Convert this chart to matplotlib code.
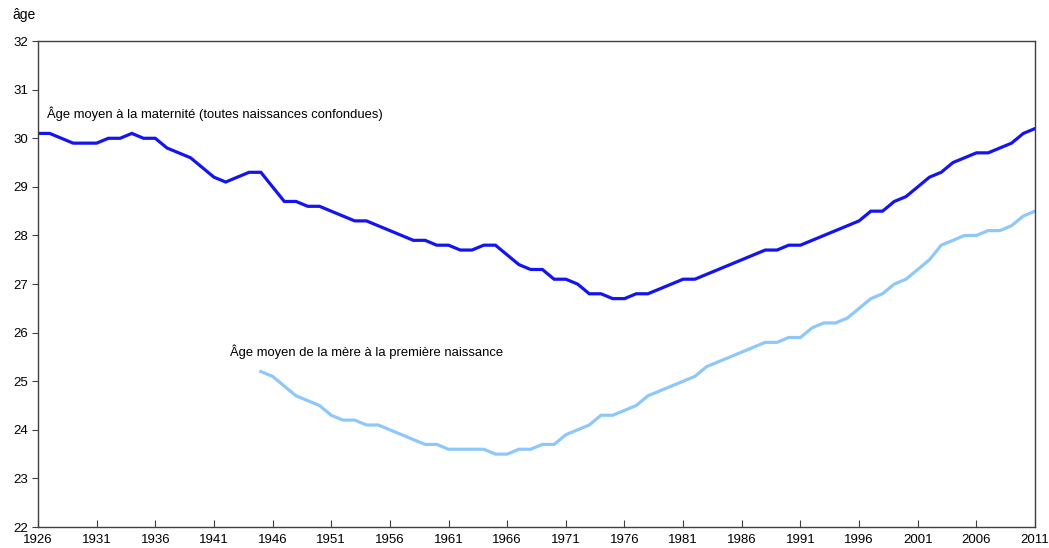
import matplotlib
matplotlib.use('Agg')
import matplotlib.pyplot as plt

plt.rcParams['font.family'] = ['Liberation Sans', 'DejaVu Sans']

# Âge moyen à la maternité, 1926-2011
years_all = list(range(1926, 2012))
age_all = [30.1, 30.1, 30.0, 29.9, 29.9, 29.9, 30.0, 30.0, 30.1, 30.0,
           30.0, 29.8, 29.7, 29.6, 29.4, 29.2, 29.1, 29.2, 29.3, 29.3,
           29.0, 28.7, 28.7, 28.6, 28.6, 28.5, 28.4, 28.3, 28.3, 28.2,
           28.1, 28.0, 27.9, 27.9, 27.8, 27.8, 27.7, 27.7, 27.8, 27.8,
           27.6, 27.4, 27.3, 27.3, 27.1, 27.1, 27.0, 26.8, 26.8, 26.7,
           26.7, 26.8, 26.8, 26.9, 27.0, 27.1, 27.1, 27.2, 27.3, 27.4,
           27.5, 27.6, 27.7, 27.7, 27.8, 27.8, 27.9, 28.0, 28.1, 28.2,
           28.3, 28.5, 28.5, 28.7, 28.8, 29.0, 29.2, 29.3, 29.5, 29.6,
           29.7, 29.7, 29.8, 29.9, 30.1, 30.2]

# Âge moyen de la mère à la première naissance, 1945-2011
years_first = list(range(1945, 2012))
age_first = [25.2, 25.1, 24.9, 24.7, 24.6, 24.5, 24.3, 24.2, 24.2, 24.1,
             24.1, 24.0, 23.9, 23.8, 23.7, 23.7, 23.6, 23.6, 23.6, 23.6,
             23.5, 23.5, 23.6, 23.6, 23.7, 23.7, 23.9, 24.0, 24.1, 24.3,
             24.3, 24.4, 24.5, 24.7, 24.8, 24.9, 25.0, 25.1, 25.3, 25.4,
             25.5, 25.6, 25.7, 25.8, 25.8, 25.9, 25.9, 26.1, 26.2, 26.2,
             26.3, 26.5, 26.7, 26.8, 27.0, 27.1, 27.3, 27.5, 27.8, 27.9,
             28.0, 28.0, 28.1, 28.1, 28.2, 28.4, 28.5]

xticks = list(range(1926, 2012, 5))
yticks = list(range(22, 33))

fig = plt.figure(figsize=(10.49, 5.48), dpi=100)
ax = fig.add_axes([0.0362, 0.0383, 0.9505, 0.8867])

ax.plot(years_all, age_all, color='#1414f0', lw=2.3, solid_joinstyle='miter')
ax.plot(years_first, age_first, color='#8ec8fb', lw=2.3, solid_joinstyle='miter')

ax.set_xlim(1926, 2011)
ax.set_ylim(22, 32)
ax.set_xticks(xticks)
ax.set_yticks(yticks)

for s in ax.spines.values():
    s.set_color('#404040')
    s.set_linewidth(1.0)

ax.tick_params(axis='x', direction='in', length=5, labelsize=9.5, pad=5, colors='#404040', labelcolor='black')
ax.tick_params(axis='y', direction='out', length=4, labelsize=9.5, pad=3, colors='#404040', labelcolor='black')

# étiquettes des séries
ax.text(1926.8, 30.5, "Âge moyen à la maternité (toutes naissances confondues)",
        fontsize=9.4, va='center', ha='left')
ax.text(1942.4, 25.6, "Âge moyen de la mère à la première naissance",
        fontsize=9.4, va='center', ha='left')

fig.text(12 / 1049, 1 - 15 / 548, "âge", fontsize=10, va='center', ha='left')

fig.savefig('out.png', dpi=100)
